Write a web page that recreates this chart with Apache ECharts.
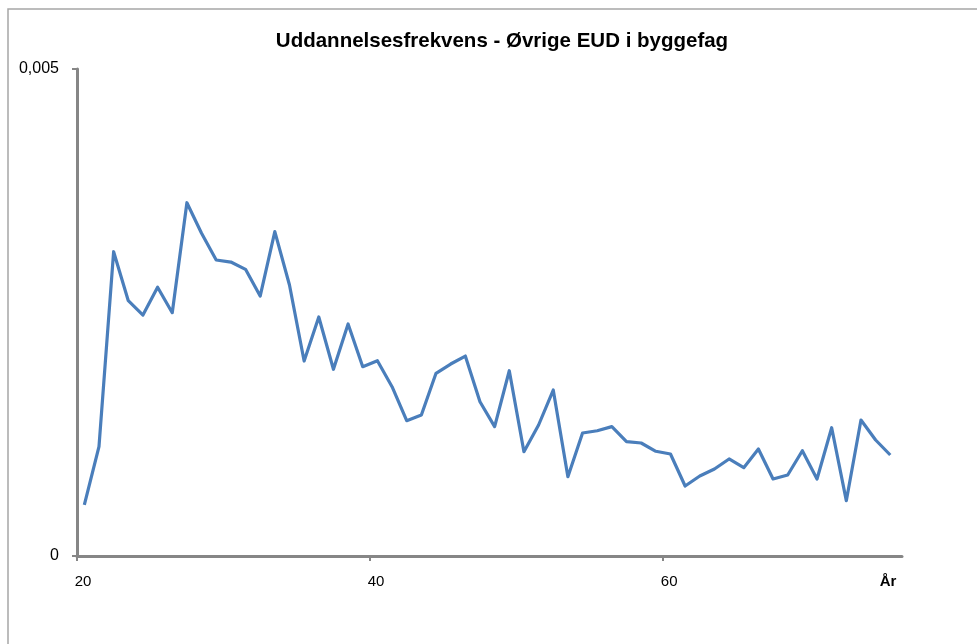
<!DOCTYPE html>
<html>
<head>
<meta charset="utf-8">
<script src="https://cdn.jsdelivr.net/npm/echarts@6/dist/echarts.min.js"></script>
<style>
html,body{margin:0;padding:0;background:#fff;}
#chart{width:977px;height:644px;}
</style>
</head>
<body>
<div id="chart"></div>
<script>
var titleText = 'Uddannelsesfrekvens - Øvrige EUD i byggefag';
var xAxisName = 'År';
var xTicks = [20, 40, 60];
var ages = [20,21,22,23,24,25,26,27,28,29,30,31,32,33,34,35,36,37,38,39,40,41,42,43,44,45,46,47,48,49,50,51,52,53,54,55,56,57,58,59,60,61,62,63,64,65,66,67,68,69,70,71,72,73,74,75];
var freq = [0.000524,0.001122,0.003124,0.002621,0.002474,0.002759,0.002498,0.003627,0.003313,0.003039,
            0.003018,0.002943,0.002669,0.003330,0.002782,0.002002,0.002454,0.001917,0.002382,0.001944,
            0.002005,0.001738,0.001389,0.001448,0.001876,0.001971,0.002053,0.001584,0.001328,0.001902,
            0.001071,0.001345,0.001704,0.000814,0.001263,0.001286,0.001328,0.001174,0.001160,0.001075,
            0.001047,0.000719,0.000821,0.000893,0.000996,0.000907,0.001099,0.000791,0.000832,0.001081,
            0.000791,0.001317,0.000568,0.001396,0.001191,0.001037];
var yTicks = [0, 0.005];

var data = ages.map(function(a, i){ return [a + 0.5, freq[i]]; });

var chart = echarts.init(document.getElementById('chart'));
chart.setOption({
  animation: false,
  backgroundColor: '#ffffff',
  graphic: [{
    type: 'rect',
    shape: {x: 8, y: 9, width: 1000, height: 700},
    style: {fill: 'none', stroke: '#a6a6a6', lineWidth: 1.5},
    silent: true
  }],
  title: {
    text: titleText,
    left: 497, top: 26, textAlign: 'center',
    textStyle: {fontFamily: 'Liberation Sans', fontWeight: 'bold', fontSize: 20.5, color: '#000'}
  },
  grid: {left: 77, right: 75, top: 69, bottom: 88, containLabel: false},
  xAxis: {
    type: 'value', min: 20, max: 76.3, interval: 20,
    name: xAxisName, nameLocation: 'end', nameGap: 0,
    nameTextStyle: {fontFamily: 'Liberation Sans', fontWeight: 'bold', fontSize: 15, color: '#000',
                    align: 'center', verticalAlign: 'top', padding: [18, 0, 0, -28]},
    axisLine: {show: true, lineStyle: {color: '#868686', width: 3}},
    axisTick: {show: true, length: 5, customValues: xTicks, lineStyle: {color: '#868686', width: 2}},
    axisLabel: {fontFamily: 'Liberation Sans', fontSize: 15, color: '#000', margin: 18, padding: [0,0,0,12],
      customValues: xTicks,
      formatter: function(v){ return String(v); }},
    splitLine: {show: false}
  },
  yAxis: {
    type: 'value', min: yTicks[0], max: yTicks[1], interval: 0.005,
    axisLine: {show: true, lineStyle: {color: '#868686', width: 3}},
    axisTick: {show: true, length: 5, lineStyle: {color: '#868686', width: 2}},
    axisLabel: {fontFamily: 'Liberation Sans', fontSize: 16, color: '#000', margin: 18,
      formatter: function(v){ return v === 0 ? '0' : String(v).replace('.', ','); }},
    splitLine: {show: false}
  },
  series: [{
    type: 'line',
    data: data,
    showSymbol: false,
    symbol: 'none',
    lineStyle: {color: '#4a7ebb', width: 3.2, join: 'round'},
    itemStyle: {color: '#4a7ebb'}
  }]
});
</script>
</body>
</html>
